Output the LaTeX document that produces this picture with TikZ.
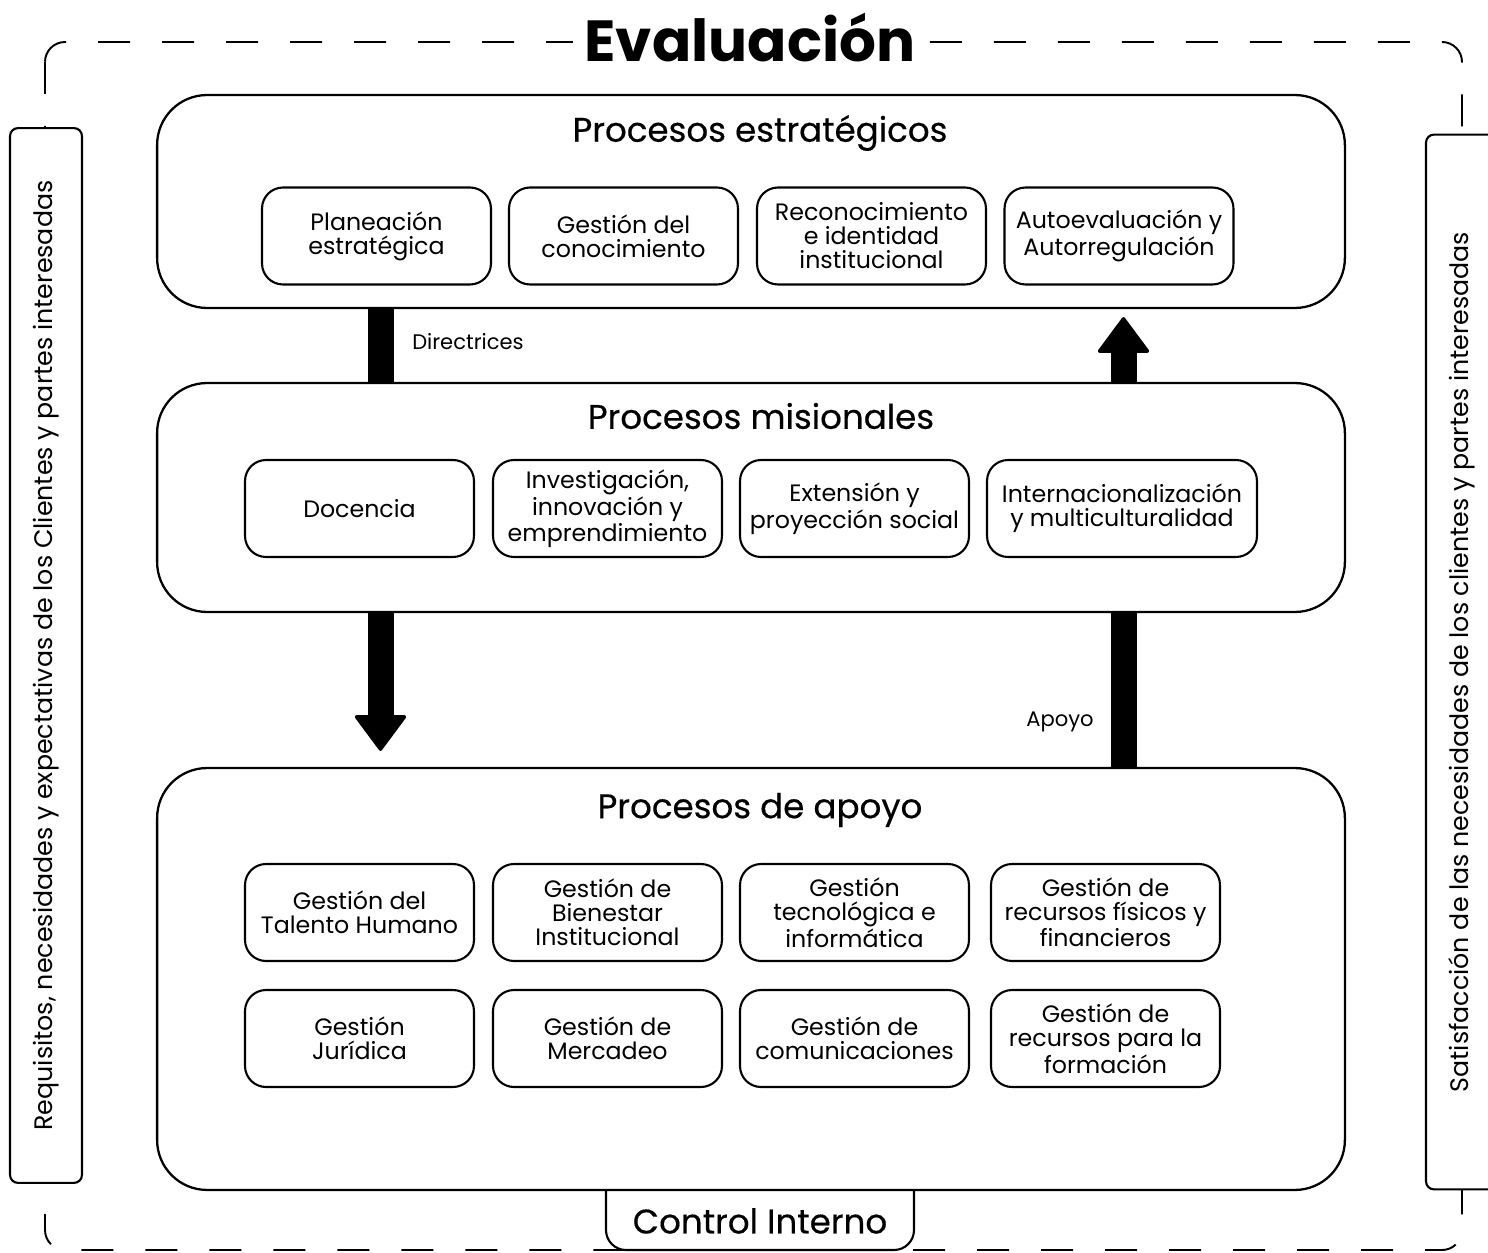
\documentclass[tikz,border=0pt]{standalone}
\usepackage{fontspec}
\setmainfont{Poppins}
\newfontfamily\popmed[FakeBold=0.4]{Poppins}
\usetikzlibrary{arrows.meta,calc}

\tikzset{
	frame/.style={line width=1.1pt, rounded corners=0.4cm, dash pattern=on 0.64cm off 0.64cm},
	bigbox/.style={draw, line width=1.3pt, rounded corners=1cm, fill=white, minimum width=23.76cm},
	bigtitle/.style={font=\popmed\fontsize{19.4}{22}\selectfont},
	procbox/.style={draw, line width=1.2pt, rounded corners=0.42cm, fill=white, minimum width=4.58cm, minimum height=1.94cm, align=center, inner sep=1pt, font=\fontsize{13.5}{13.7}\selectfont},
	sidebox/.style={draw, line width=1.2pt, rounded corners=0.16cm, fill=white, rotate=90, minimum width=21.1cm, minimum height=1.44cm, font=\fontsize{14.4}{16}\selectfont},
	bar/.style={line width=0.52cm},
	tip/.style={-{Triangle[length=0.74cm, width=1.08cm, line width=2pt, round]}},
	lbl/.style={font=\fontsize{12}{14}\selectfont}
}

\begin{document}
\begin{tikzpicture}[x=0.02cm, y=-0.02cm]
		\useasboundingbox (0,0) rectangle (1488,1253);
		%%%%% FRAME %%%%%
		\draw[frame] (45,42) rectangle (1462,1250);
		\node[fill=white, inner xsep=0.24cm, inner ysep=0pt, anchor=base, font=\fontsize{33}{38}\selectfont\bfseries] (eval) at (750,62) {Evaluación};
		
		\node[sidebox] (req) at (46,655.5) {Requisitos, necesidades y expectativas de los Clientes y partes interesadas};
		\node[sidebox] (sat) at (1462,662) {Satisfacción de las necesidades de los clientes y partes interesadas};
		
		%%%%% CONTROL INTERNO %%%%%
		\draw[line width=1.2pt, fill=white, rounded corners=0.4cm] (606,1185) -- (606,1250) -- (914,1250) -- (914,1185);
		\node[bigtitle] (ci) at (760,1221) {Control Interno};
		
		%%%%% BIG BOXES %%%%%
		\node[bigbox, minimum height=4.26cm] (estr) at (751,201.5) {};
		\node[bigbox, minimum height=4.58cm] (mis) at (751,497.5) {};
		\node[bigbox, minimum height=8.44cm] (apo) at (751,979) {};
		
		\node[bigtitle] (testr) at (760,133) {Procesos estratégicos};
		\node[bigtitle] (tmis) at (761,416) {Procesos misionales};
		\node[bigtitle] (tapo) at (760,810) {Procesos de apoyo};
		
		%%%%% ESTRATEGICOS %%%%%
		\node[procbox] (plan) at (376.5,236) {Planeación\\estratégica};
		\node[procbox] (gcon) at (623.5,236) {Gestión del\\conocimiento};
		\node[procbox] (reco) at (871.5,236) {Reconocimiento\\e identidad\\institucional};
		\node[procbox] (auto) at (1119,236) {Autoevaluación y\\Autorregulación};
		
		%%%%% MISIONALES %%%%%
		\node[procbox] (doc) at (359.5,508.5) {Docencia};
		\node[procbox] (inv) at (607.5,508.5) {Investigación,\\innovación y\\emprendimiento};
		\node[procbox] (ext) at (854.5,508.5) {Extensión y\\proyección social};
		\node[procbox, minimum width=5.4cm] (inter) at (1122,508.5) {Internacionalización\\y multiculturalidad};
		
		%%%%% APOYO %%%%%
		\node[procbox] (gth) at (359.5,912.5) {Gestión del\\Talento Humano};
		\node[procbox] (gbi) at (607.5,912.5) {Gestión de\\Bienestar\\Institucional};
		\node[procbox] (gti) at (854.5,912.5) {Gestión\\tecnológica e\\informática};
		\node[procbox] (grf) at (1105.5,912.5) {Gestión de\\recursos físicos y\\financieros};
		\node[procbox] (gju) at (359.5,1038.5) {Gestión\\Jurídica};
		\node[procbox] (gme) at (607.5,1038.5) {Gestión de\\Mercadeo};
		\node[procbox] (gco) at (854.5,1038.5) {Gestión de\\comunicaciones};
		\node[procbox] (grp) at (1105.5,1038.5) {Gestión de\\recursos para la\\formación};
		
		%%%%% ARROWS %%%%%
		\coordinate (cleft) at (380.5,0);
		\coordinate (cright) at (1123.5,0);
		\draw[bar] (estr.south -| cleft) -- (mis.north -| cleft);
		\draw[bar, tip] (mis.north -| cright) -- ($(estr.south -| cright)+(0,8)$);
		\draw[bar, tip] (mis.south -| cleft) -- ($(apo.north -| cleft)+(0,-16)$);
		\draw[bar] (apo.north -| cright) -- (mis.south -| cright);
		\node[lbl] (ldir) at (468,342) {Directrices};
		\node[lbl] (lapo) at (1060,722) {Apoyo};
	\end{tikzpicture}
\end{document}
